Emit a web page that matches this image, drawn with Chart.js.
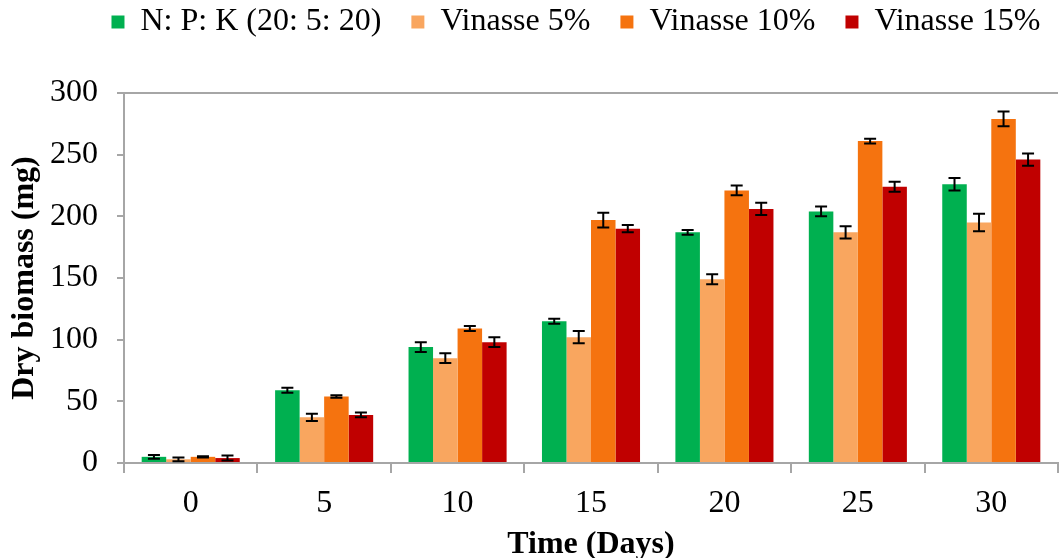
<!DOCTYPE html>
<html>
<head>
<meta charset="utf-8">
<script src="https://cdn.jsdelivr.net/npm/chart.js@4.4.1/dist/chart.umd.min.js"></script>
<style>
  html, body { margin: 0; padding: 0; background: #fff; }
  #wrap { width: 1061px; height: 558px; position: relative; }
</style>
</head>
<body>
<div id="wrap"><canvas id="biomassChart"></canvas></div>
<script>
const days = ['0', '5', '10', '15', '20', '25', '30'];
const npk = [5, 59, 94, 115, 187, 204, 226];
const vin5 = [3, 37, 85, 102, 149, 187, 195];
const vin10 = [5, 54, 109, 197, 221, 261, 279];
const vin15 = [4, 39, 98, 190, 206, 224, 246];
// standard error (mg)
const npkErr = [1.5, 2, 4, 2, 2, 4, 5];
const vin5Err = [1.5, 3, 4, 5, 4, 5, 7];
const vin10Err = [0.5, 1, 2, 6, 4, 2, 6];
const vin15Err = [2, 2, 4, 3, 5, 4, 5];
const yTicks = [0, 50, 100, 150, 200, 250, 300];

const axisGray = '#A6A6A6';
const serif = "'Liberation Serif', 'Times New Roman', serif";

// nudge the legend so it sits like in the original figure
const legendShift = {
    id: 'legendShift',
    afterLayout(chart) {
        const lg = chart.legend;
        lg.left += 47; lg.right += 47;
        lg.top -= 45; lg.bottom -= 45;
    }
};

// error bars + top frame line
const errorBars = {
    id: 'errorBars',
    afterDatasetsDraw(chart) {
        const ctx = chart.ctx;
        const y = chart.scales.y;
        const area = chart.chartArea;
        ctx.save();
        ctx.strokeStyle = axisGray;
        ctx.lineWidth = 2;
        ctx.beginPath();
        ctx.moveTo(area.left, area.top);
        ctx.lineTo(area.right, area.top);
        ctx.stroke();

        ctx.strokeStyle = '#000';
        ctx.lineWidth = 2;
        chart.data.datasets.forEach(function (ds, i) {
            const meta = chart.getDatasetMeta(i);
            meta.data.forEach(function (bar, j) {
                const v = ds.data[j];
                const e = ds.errors[j];
                const top = y.getPixelForValue(v + e);
                const bot = y.getPixelForValue(v - e);
                const x = bar.x;
                ctx.beginPath();
                ctx.moveTo(x, top); ctx.lineTo(x, bot);
                ctx.moveTo(x - 6, top); ctx.lineTo(x + 6, top);
                ctx.moveTo(x - 6, bot); ctx.lineTo(x + 6, bot);
                ctx.stroke();
            });
        });
        ctx.restore();
    }
};

const ctx = document.getElementById('biomassChart').getContext('2d');
new Chart(ctx, {
    type: 'bar',
    data: {
        labels: days,
        datasets: [
            { label: 'N: P: K (20: 5: 20)', data: npk, errors: npkErr, backgroundColor: '#00B050' },
            { label: 'Vinasse 5%', data: vin5, errors: vin5Err, backgroundColor: '#F9A65F' },
            { label: 'Vinasse 10%', data: vin10, errors: vin10Err, backgroundColor: '#F5730F' },
            { label: 'Vinasse 15%', data: vin15, errors: vin15Err, backgroundColor: '#C00000' }
        ]
    },
    options: {
        responsive: true,
        maintainAspectRatio: false,
        animation: false,
        layout: { padding: { left: 0, right: 3, top: 21, bottom: -3 } },
        datasets: { bar: { categoryPercentage: 0.735, barPercentage: 1 } },
        plugins: {
            legend: {
                position: 'top',
                labels: {
                    color: '#000',
                    font: { family: serif, size: 32 },
                    boxWidth: 13,
                    boxHeight: 13,
                    padding: 30
                }
            },
            tooltip: { enabled: false }
        },
        scales: {
            x: {
                offset: true,
                afterFit(scale) { scale.height = 98; },
                grid: { offset: true, drawOnChartArea: false, color: axisGray, lineWidth: 2, tickLength: 10 },
                border: { color: axisGray, width: 2 },
                ticks: { color: '#000', font: { family: serif, size: 32 }, padding: 11 },
                title: {
                    display: true, text: 'Time (Days)', color: '#000',
                    font: { family: serif, size: 32, weight: 'bold', lineHeight: 1 },
                    padding: { top: 4, bottom: 0 }
                }
            },
            y: {
                min: 0,
                max: 300,
                afterBuildTicks(scale) { scale.ticks = yTicks.map(v => ({ value: v })); },
                afterFit(scale) { scale.width = 124; },
                grid: { drawOnChartArea: false, color: axisGray, lineWidth: 2, tickLength: 7 },
                border: { color: axisGray, width: 2 },
                ticks: { color: '#000', font: { family: serif, size: 32 }, padding: 19 },
                title: {
                    display: true, text: 'Dry biomass (mg)', color: '#000',
                    font: { family: serif, size: 32, weight: 'bold' },
                    padding: { top: 6, bottom: 6 }
                }
            }
        }
    },
    plugins: [errorBars, legendShift]
});
</script>
</body>
</html>
